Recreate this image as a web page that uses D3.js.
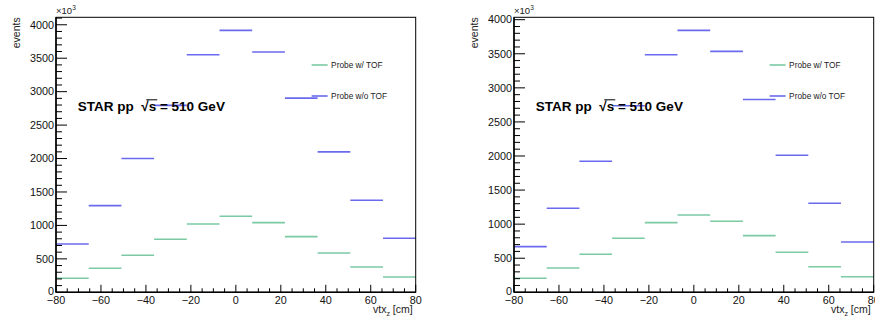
<!DOCTYPE html>
<html>
<head>
<meta charset="utf-8">
<script src="https://cdn.jsdelivr.net/npm/d3@7"></script>
<style>
  body { margin: 0; background: #fff; }
  svg { display: block; font-family: "Liberation Sans", Arial, sans-serif; }
  text { white-space: pre; }
</style>
</head>
<body>
<div id="chart"></div>
<script>
// vtx_z binning: 11 bins from -80 to 80 cm
var xRange = [-80, 80],
    nBins = 11,
    xTicks = [-80, -60, -40, -20, 0, 20, 40, 60, 80],
    yTicks = [0, 500, 1000, 1500, 2000, 2500, 3000, 3500, 4000];

// events (x10^3) per bin, left pad
var withTofA    = [210, 359, 554, 793, 1022, 1138, 1042, 832, 588, 379, 229];
var withoutTofA = [723, 1296, 2000, 2795, 3552, 3916, 3593, 2904, 2100, 1377, 808];
// right pad
var withTofB    = [206, 357, 558, 793, 1023, 1135, 1043, 832, 588, 376, 229];
var withoutTofB = [670, 1234, 1924, 2737, 3486, 3843, 3535, 2830, 2012, 1307, 739];

var seriesNames = ["Probe w/ TOF", "Probe w/o TOF"],
    colors = ["#7ccaa4", "#6a6aee"];

var W = 875, H = 320;
var svg = d3.select("#chart").append("svg")
    .attr("width", W)
    .attr("height", H);

function drawPad(cfg) {
    var left = cfg.left, top = 17.3, width = 359.7, height = 275;
    var g = svg.append("g").attr("transform", "translate(" + left + "," + top + ")");

    var x = d3.scaleLinear().domain(xRange).range([0, width]);
    var yMax = d3.max(cfg.series[1]) * 1.05;
    var y = d3.scaleLinear().domain([0, yMax]).range([height, 0]);

    var step = (xRange[1] - xRange[0]) / nBins;
    var edges = d3.range(nBins + 1).map(i => xRange[0] + i * step);

    // histogram bins as flat segments
    cfg.series.forEach((vals, s) => {
        g.append("g")
            .selectAll("line")
            .data(vals)
            .enter().append("line")
            .attr("x1", (d, i) => x(edges[i]))
            .attr("x2", (d, i) => x(edges[i + 1]))
            .attr("y1", d => y(d))
            .attr("y2", d => y(d))
            .attr("stroke", colors[s])
            .attr("stroke-width", 1.6);
    });

    // frame
    g.append("rect")
        .attr("width", width).attr("height", height)
        .attr("fill", "none").attr("stroke", "#000").attr("stroke-width", 1);

    // y axis ticks
    var yMinor = d3.range(0, yMax, 100);
    g.append("g").selectAll("line").data(yMinor).enter().append("line")
        .attr("x1", 0).attr("x2", d => d % 500 === 0 ? 11 : 6)
        .attr("y1", d => y(d)).attr("y2", d => y(d))
        .attr("stroke", "#000").attr("stroke-width", 1);
    g.append("g").selectAll("text").data(yTicks).enter().append("text")
        .attr("x", -2).attr("y", d => y(d) - (d === 0 ? 1.5 : 0))
        .attr("dy", "0.35em")
        .attr("text-anchor", "end")
        .style("font-size", "10.8px")
        .attr("fill", "#111")
        .text(d => d);

    // x axis ticks
    var xMinor = d3.range(xRange[0], xRange[1] + 1, 5);
    g.append("g").selectAll("line").data(xMinor).enter().append("line")
        .attr("x1", d => x(d)).attr("x2", d => x(d))
        .attr("y1", height).attr("y2", d => height - (d % 20 === 0 ? 7.5 : 4))
        .attr("stroke", "#000").attr("stroke-width", 1);
    g.append("g").selectAll("text").data(xTicks).enter().append("text")
        .attr("x", d => x(d)).attr("y", height + 12)
        .attr("text-anchor", "middle")
        .style("font-size", "10.8px")
        .attr("fill", "#111")
        .text(d => d < 0 ? "\u2212" + Math.abs(d) : d);

    // axis lines slightly heavier
    g.append("line").attr("x1", 0).attr("x2", width).attr("y1", height).attr("y2", height)
        .attr("stroke", "#000").attr("stroke-width", 1.5);
    g.append("line").attr("x1", 0).attr("x2", 0).attr("y1", 0).attr("y2", height)
        .attr("stroke", "#000").attr("stroke-width", 1.5);

    // x10^3 exponent
    var ex = g.append("text").attr("x", 0).attr("y", -3).style("font-size", "9.5px").attr("fill", "#222");
    ex.append("tspan").text("\u00d710");
    ex.append("tspan").attr("dy", -4).style("font-size", "6.5px").text("3");

    // axis titles
    g.append("text")
        .attr("transform", "translate(" + (cfg.yTitleX - left) + ",0) rotate(-90)")
        .attr("text-anchor", "end")
        .style("font-size", "10.5px")
        .attr("fill", "#222")
        .text("events");
    var xt = g.append("text")
        .attr("x", width - 3).attr("y", height + 21)
        .attr("text-anchor", "end")
        .style("font-size", "10.5px")
        .attr("fill", "#222");
    xt.append("tspan").text("vtx");
    xt.append("tspan").attr("dy", 3).style("font-size", "7px").text("z");
    xt.append("tspan").attr("dy", -3).text(" [cm]");

    // STAR label with a drawn radical over s
    var lx = x(-70.3), ly = 93.5;
    var lab = g.append("text")
        .attr("x", lx).attr("y", ly)
        .style("font-size", "13.5px").style("font-weight", "bold")
        .text("STAR pp  \u221As = 510 GeV");
    var node = lab.node(), str = node.textContent, k = str.indexOf("\u221A");
    var sx0 = node.getStartPositionOfChar(k).x,
        sx1 = node.getEndPositionOfChar(k + 1).x;
    g.append("line")
        .attr("x1", sx0 + 5).attr("x2", sx1 + 1)
        .attr("y1", ly - 11).attr("y2", ly - 11)
        .attr("stroke", "#000").attr("stroke-width", 1);

    // legend
    var lg = g.append("g").attr("transform", "translate(" + x(33.7) + ",0)");
    seriesNames.forEach((n, i) => {
        var ly2 = 47.7 + i * 31;
        lg.append("line").attr("x1", 0).attr("x2", 16).attr("y1", ly2).attr("y2", ly2)
            .attr("stroke", colors[i]).attr("stroke-width", 1.6);
        lg.append("text").attr("x", 19.5).attr("y", ly2).attr("dy", "0.35em")
            .style("font-size", "8.3px").attr("fill", "#222")
            .text(n);
    });
}

drawPad({ left: 56, yTitleX: 19.5, series: [withTofA, withoutTofA] });
drawPad({ left: 514, yTitleX: 477.5, series: [withTofB, withoutTofB] });
</script>
</body>
</html>
